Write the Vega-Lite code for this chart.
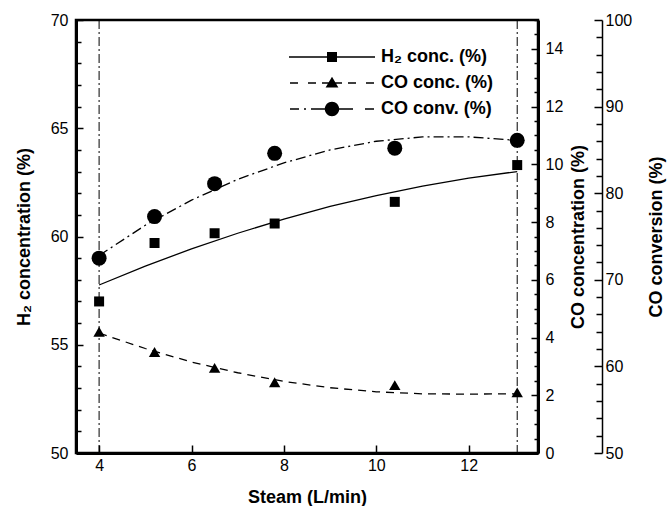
{
  "$schema": "https://vega.github.io/schema/vega-lite/v6.json",
  "width": 462,
  "height": 433,
  "autosize": "none",
  "padding": {"left": 76, "top": 20, "right": 129, "bottom": 53},
  "background": "white",
  "config": {
    "view": {"stroke": "black", "strokeWidth": 2.5},
    "font": "Liberation Sans",
    "axis": {
      "labelFont": "Liberation Sans",
      "labelFontSize": 16,
      "labelColor": "black",
      "labelOverlap": false,
      "titleFont": "Liberation Sans",
      "titleFontSize": 18,
      "titleFontWeight": "bold",
      "titleColor": "black",
      "domainColor": "black",
      "tickColor": "black",
      "grid": false,
      "tickWidth": 1.5
    }
  },
  "datasets": {
    "vlines": [{"steam": 4}, {"steam": 13.05}],
    "h2pts": [
      {"steam": 4, "h2": 57.0}, {"steam": 5.2, "h2": 59.7}, {"steam": 6.5, "h2": 60.15},
      {"steam": 7.8, "h2": 60.6}, {"steam": 10.4, "h2": 61.6}, {"steam": 13.05, "h2": 63.3}
    ],
    "h2fit": [
      {"steam": 4, "h2": 57.76}, {"steam": 5, "h2": 58.63}, {"steam": 6, "h2": 59.43},
      {"steam": 7, "h2": 60.15}, {"steam": 8, "h2": 60.8}, {"steam": 9, "h2": 61.39},
      {"steam": 10, "h2": 61.89}, {"steam": 11, "h2": 62.33}, {"steam": 12, "h2": 62.7},
      {"steam": 13.05, "h2": 63.0}
    ],
    "copts": [
      {"steam": 4, "co": 4.2}, {"steam": 5.2, "co": 3.5}, {"steam": 6.5, "co": 2.95},
      {"steam": 7.8, "co": 2.45}, {"steam": 10.4, "co": 2.35}, {"steam": 13.05, "co": 2.1}
    ],
    "cofit": [
      {"steam": 4, "co": 4.15}, {"steam": 5, "co": 3.62}, {"steam": 6, "co": 3.15},
      {"steam": 7, "co": 2.78}, {"steam": 8, "co": 2.48}, {"steam": 9, "co": 2.26},
      {"steam": 10, "co": 2.12}, {"steam": 11, "co": 2.05}, {"steam": 12, "co": 2.04},
      {"steam": 13.05, "co": 2.05}
    ],
    "cvpts": [
      {"steam": 4, "conv": 72.5}, {"steam": 5.2, "conv": 77.3}, {"steam": 6.5, "conv": 81.1},
      {"steam": 7.8, "conv": 84.6}, {"steam": 10.4, "conv": 85.2}, {"steam": 13.05, "conv": 86.1}
    ],
    "cvfit": [
      {"steam": 4, "conv": 72.8}, {"steam": 5, "conv": 76.3}, {"steam": 6, "conv": 79.2},
      {"steam": 7, "conv": 81.6}, {"steam": 8, "conv": 83.5}, {"steam": 9, "conv": 85.0},
      {"steam": 10, "conv": 86.0}, {"steam": 11, "conv": 86.5}, {"steam": 12, "conv": 86.5},
      {"steam": 13.05, "conv": 86.1}
    ],
    "series": [
      {"series": "H₂ conc. (%)"}, {"series": "CO conc. (%)"}, {"series": "CO conv. (%)"}
    ]
  },
  "layer": [
    {
      "data": {"name": "vlines"},
      "mark": {"type": "rule", "color": "black", "strokeWidth": 1, "strokeDash": [9, 3, 2, 3]},
      "encoding": {
        "x": {
          "field": "steam", "type": "quantitative",
          "scale": {"domain": [3.5, 13.5], "nice": false, "zero": false},
          "axis": {
            "title": "Steam (L/min)",
            "orient": "bottom",
            "values": [4, 6, 8, 10, 12],
            "format": "d",
            "tickSize": -8,
            "labelPadding": 12,
            "domainWidth": 3,
            "titlePadding": 15
          }
        }
      }
    },
    {
      "layer": [
        {
          "data": {"name": "h2fit"},
          "mark": {"type": "line", "color": "black", "strokeWidth": 1.3},
          "encoding": {
            "x": {"field": "steam", "type": "quantitative"},
            "y": {"field": "h2", "type": "quantitative"}
          }
        },
        {
          "data": {"name": "h2pts"},
          "mark": {"type": "square", "color": "black", "filled": true, "opacity": 1, "size": 100},
          "encoding": {
            "x": {"field": "steam", "type": "quantitative"},
            "y": {"field": "h2", "type": "quantitative"}
          }
        }
      ],
      "encoding": {
        "y": {
          "field": "h2", "type": "quantitative",
          "scale": {"domain": [50, 70], "nice": false, "zero": false},
          "axis": {
            "title": "H₂ concentration (%)",
            "orient": "left",
            "values": [50,51,52,53,54,55,56,57,58,59,60,61,62,63,64,65,66,67,68,69,70],
            "labelExpr": "datum.value % 5 === 0 ? datum.label : ''",
            "tickSize": {"condition": {"test": "datum.value % 5 === 0", "value": -7}, "value": -5},
            "labelPadding": 15,
            "domainWidth": 3,
            "titlePadding": 17
          }
        }
      }
    },
    {
      "layer": [
        {
          "data": {"name": "cofit"},
          "mark": {"type": "line", "color": "black", "strokeWidth": 1.3, "strokeDash": [8, 6]},
          "encoding": {
            "x": {"field": "steam", "type": "quantitative"},
            "y": {"field": "co", "type": "quantitative"}
          }
        },
        {
          "data": {"name": "copts"},
          "mark": {"type": "point", "shape": "triangle-up", "color": "black", "filled": true, "opacity": 1, "size": 130},
          "encoding": {
            "x": {"field": "steam", "type": "quantitative"},
            "y": {"field": "co", "type": "quantitative"}
          }
        }
      ],
      "encoding": {
        "y": {
          "field": "co", "type": "quantitative",
          "scale": {"domain": [0, 15], "nice": false, "zero": false},
          "axis": {
            "title": "CO concentration (%)",
            "orient": "right",
            "titleAngle": 270,
            "values": [0,0.5,1,1.5,2,2.5,3,3.5,4,4.5,5,5.5,6,6.5,7,7.5,8,8.5,9,9.5,10,10.5,11,11.5,12,12.5,13,13.5,14,14.5,15],
            "labelExpr": "datum.value % 2 === 0 ? format(datum.value, 'd') : ''",
            "tickSize": {"condition": {"test": "datum.value % 2 === 0", "value": -7}, "value": -4},
            "labelPadding": 14,
            "domainWidth": 3,
            "titlePadding": 25
          }
        }
      }
    },
    {
      "layer": [
        {
          "data": {"name": "cvfit"},
          "mark": {"type": "line", "color": "black", "strokeWidth": 1.3, "strokeDash": [10, 4, 2, 4]},
          "encoding": {
            "x": {"field": "steam", "type": "quantitative"},
            "y": {"field": "conv", "type": "quantitative"}
          }
        },
        {
          "data": {"name": "cvpts"},
          "mark": {"type": "circle", "color": "black", "opacity": 1, "size": 225},
          "encoding": {
            "x": {"field": "steam", "type": "quantitative"},
            "y": {"field": "conv", "type": "quantitative"}
          }
        }
      ],
      "encoding": {
        "y": {
          "field": "conv", "type": "quantitative",
          "scale": {"domain": [50, 100], "nice": false, "zero": false},
          "axis": {
            "title": "CO conversion (%)",
            "orient": "right",
            "offset": 64,
            "titleAngle": 270,
            "values": [50,52,54,56,58,60,62,64,66,68,70,72,74,76,78,80,82,84,86,88,90,92,94,96,98,100],
            "labelExpr": "datum.value % 10 === 0 ? datum.label : ''",
            "tickSize": {"condition": {"test": "datum.value % 10 === 0", "value": -8}, "value": -6},
            "labelPadding": 11,
            "domainWidth": 1.5,
            "titlePadding": 34
          }
        }
      }
    },
    {
      "data": {"name": "series"},
      "mark": {"type": "point", "filled": true, "color": "black", "opacity": 0},
      "encoding": {
        "shape": {
          "field": "series", "type": "nominal",
          "scale": {
            "domain": ["H₂ conc. (%)", "CO conc. (%)", "CO conv. (%)"],
            "range": [
              "M-4.3,-0.065L4.3,-0.065L4.3,0.065L-4.3,0.065ZM-0.5,-0.5L0.5,-0.5L0.5,0.5L-0.5,0.5Z",
              "M-4.2,-0.065L-3.4,-0.065L-3.4,0.065L-4.2,0.065ZM-2.4,-0.065L-1.6,-0.065L-1.6,0.065L-2.4,0.065ZM-1,-0.065L1,-0.065L1,0.065L-1,0.065ZM1.6,-0.065L2.4,-0.065L2.4,0.065L1.6,0.065ZM3.4,-0.065L4.2,-0.065L4.2,0.065L3.4,0.065ZM0,-0.62L0.64,0.46L-0.64,0.46Z",
              "M-4.2,-0.065L-3.3,-0.065L-3.3,0.065L-4.2,0.065ZM-2.8,-0.065L-2.6,-0.065L-2.6,0.065L-2.8,0.065ZM-2.1,-0.065L2.1,-0.065L2.1,0.065L-2.1,0.065ZM3.3,-0.065L4.2,-0.065L4.2,0.065L3.3,0.065ZM0.72,0A0.72,0.72 0 1,1 -0.72,0A0.72,0.72 0 1,1 0.72,0Z"
            ]
          },
          "legend": {
            "title": null,
            "orient": "none",
            "legendX": 246,
            "legendY": 27,
            "symbolSize": 400,
            "symbolOpacity": 1,
            "symbolFillColor": "black",
            "symbolStrokeWidth": 0,
            "labelFont": "Liberation Sans",
            "labelFontSize": 18,
            "labelFontWeight": "bold",
            "labelColor": "black",
            "labelOffset": 39,
            "rowPadding": 7,
            "padding": 0
          }
        }
      }
    }
  ],
  "resolve": {"scale": {"y": "independent"}}
}
